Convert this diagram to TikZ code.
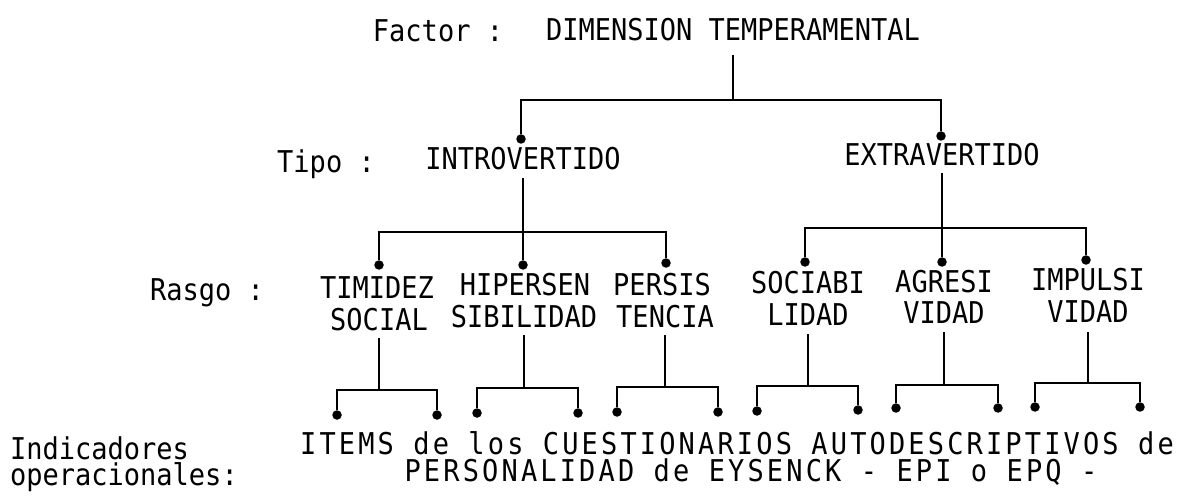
\documentclass[tikz,border=0pt]{standalone}
\usepackage{fontspec}
\newfontfamily\twfont[FakeStretch=0.9]{DejaVu Sans Mono}
\newfontfamily\twwidefont[FakeStretch=0.9,LetterSpace=10.5]{DejaVu Sans Mono}
\begin{document}
\begin{tikzpicture}[x=1pt,y=-1pt,
  lbl/.style={font=\twfont\fontsize{30}{32}\selectfont, inner sep=0pt, anchor=base},
  lblw/.style={lbl, anchor=base west},
  widetxt/.style={font=\twwidefont\fontsize{30}{32}\selectfont, inner sep=0pt, anchor=base},
  dot/.style={circle, fill=black, inner sep=0pt, minimum size=9.5pt},
  link/.style={line width=2.4pt, line join=miter}]
\useasboundingbox (0,0) rectangle (1198,497);

% bar heights
\coordinate (y0) at (0,100);
\coordinate (y1) at (0,232);
\coordinate (y1e) at (0,228);
\coordinate (y2a) at (0,390);
\coordinate (y2b) at (0,388);
\coordinate (y2c) at (0,387);
\coordinate (y2d) at (0,386);
\coordinate (y2e) at (0,385);
\coordinate (y2f) at (0,383);

% level 1
\node[lbl] (factor) at (438,42) {Factor :};
\node[lbl] (dim) at (733,41) {DIMENSION TEMPERAMENTAL};

% level 2
\node[lbl] (tipo) at (326,172) {Tipo :};
\node[lbl] (intro) at (523,170) {INTROVERTIDO};
\node[lbl] (extra) at (942,166) {EXTRAVERTIDO};
\node[dot] (dI) at (521,139) {};
\node[dot] (dE) at (941,136) {};

% level 3
\node[lbl] (rasgo) at (207,300) {Rasgo :};
\node[lbl] (t1a) at (377,298) {TIMIDEZ};
\node[lbl] (t1b) at (379,330) {SOCIAL};
\node[lbl] (t2a) at (525,295) {HIPERSEN};
\node[lbl] (t2b) at (524,327) {SIBILIDAD};
\node[lbl] (t3a) at (662,295) {PERSIS};
\node[lbl] (t3b) at (665,327) {TENCIA};
\node[lbl] (t4a) at (808,293) {SOCIABI};
\node[lbl] (t4b) at (808,325) {LIDAD};
\node[lbl] (t5a) at (944,292) {AGRESI};
\node[lbl] (t5b) at (944,323) {VIDAD};
\node[lbl] (t6a) at (1088,290) {IMPULSI};
\node[lbl] (t6b) at (1088,322) {VIDAD};

\node[dot] (dT) at (379,265) {};
\node[dot] (dH) at (523,265) {};
\node[dot] (dP) at (666,263) {};
\node[dot] (dS) at (805,262) {};
\node[dot] (dA) at (942,262) {};
\node[dot] (dM) at (1086,260) {};

% level 4 dots
\node[dot] (e1a) at (337,415) {};
\node[dot] (e1b) at (437,415) {};
\node[dot] (e2a) at (477,413) {};
\node[dot] (e2b) at (578,413) {};
\node[dot] (e3a) at (617,412) {};
\node[dot] (e3b) at (718,412) {};
\node[dot] (e4a) at (757,411) {};
\node[dot] (e4b) at (858,410) {};
\node[dot] (e5a) at (896,408) {};
\node[dot] (e5b) at (998,408) {};
\node[dot] (e6a) at (1035,407) {};
\node[dot] (e6b) at (1140,407) {};

% bottom texts
\node[lblw] (ind) at (10,459) {Indicadores};
\node[lblw] (oper) at (10,485) {operacionales:};
\node[widetxt] (items) at (737,454) {ITEMS de los CUESTIONARIOS AUTODESCRIPTIVOS de};
\node[widetxt] (perso) at (751,481) {PERSONALIDAD de EYSENCK - EPI o EPQ -};

% connectors level 1
\draw[link] ([yshift=-14pt]dim.base) -- (dim.base |- y0);
\draw[link] (dI) |- (dim.base |- y0) -| (dE);

% connectors level 2
\draw[link] ([yshift=-8pt]intro.base) -- (dH);
\draw[link] (dT) |- (intro.base |- y1) -| (dP);
\draw[link] ([yshift=-7pt]extra.base) -- (dA);
\draw[link] (dS) |- (extra.base |- y1e) -| (dM);

% connectors level 3
\draw[link] ([yshift=-8pt]t1b.base) -- (t1b.base |- y2a);
\draw[link] (e1a) |- (t1b.base |- y2a) -| (e1b);
\draw[link] ([yshift=-8pt]t2b.base) -- (t2b.base |- y2b);
\draw[link] (e2a) |- (t2b.base |- y2b) -| (e2b);
\draw[link] ([yshift=-8pt]t3b.base) -- (t3b.base |- y2c);
\draw[link] (e3a) |- (t3b.base |- y2c) -| (e3b);
\draw[link] ([yshift=-9pt]t4b.base) -- (t4b.base |- y2d);
\draw[link] (e4a) |- (t4b.base |- y2d) -| (e4b);
\draw[link] ([yshift=-9pt]t5b.base) -- (t5b.base |- y2e);
\draw[link] (e5a) |- (t5b.base |- y2e) -| (e5b);
\draw[link] ([yshift=-10pt]t6b.base) -- (t6b.base |- y2f);
\draw[link] (e6a) |- (t6b.base |- y2f) -| (e6b);
\end{tikzpicture}
\end{document}
